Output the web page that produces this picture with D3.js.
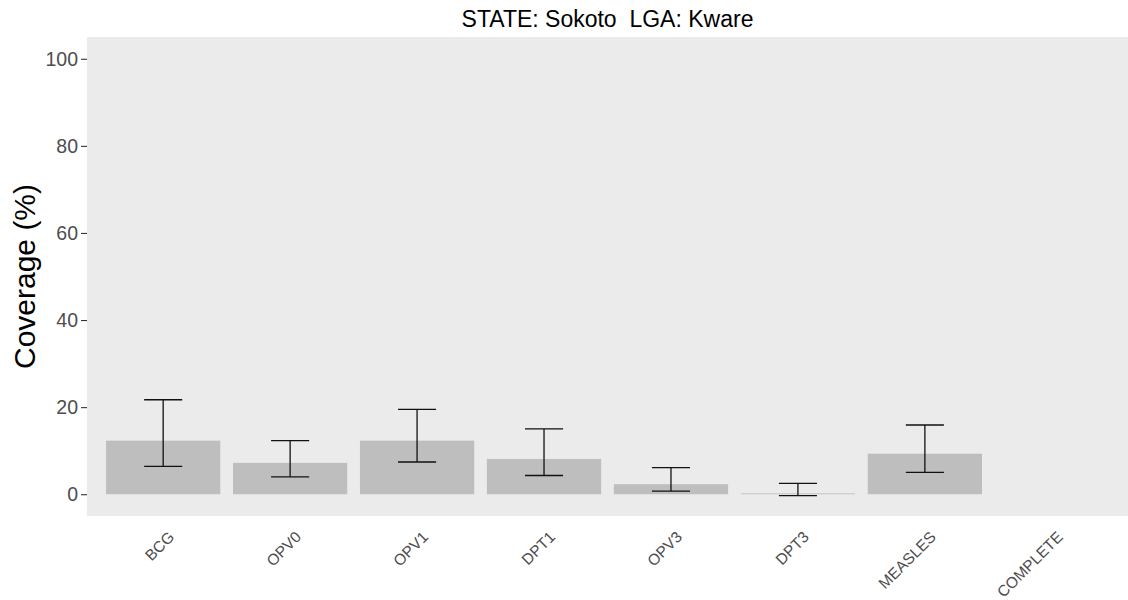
<!DOCTYPE html>
<html>
<head>
<meta charset="utf-8">
<script src="https://cdn.jsdelivr.net/npm/d3@7"></script>
<style>
  html, body { margin: 0; padding: 0; background: #ffffff; }
  svg { display: block; font-family: "Liberation Sans", Arial, sans-serif; }
</style>
</head>
<body>
<svg id="chart" width="1128" height="600"></svg>
<script>
// Vaccination coverage estimates with 95% confidence intervals
const categories = ["BCG", "OPV0", "OPV1", "DPT1", "OPV3", "DPT3", "MEASLES", "COMPLETE"];
const coverage   = [12.3, 7.2, 12.3, 8.1, 2.3, 0.2, 9.3, 0];
const lowerCI    = [6.4, 4.0, 7.4, 4.3, 0.7, -0.3, 5.0, null];
const upperCI    = [21.7, 12.3, 19.5, 15.0, 6.1, 2.5, 15.9, null];
const yTicks     = [0, 20, 40, 60, 80, 100];
const titleText  = "STATE: Sokoto  LGA: Kware";
const yTitle     = "Coverage (%)";

const data = categories.map((c, i) => ({
  cat: c, value: coverage[i], lo: lowerCI[i], hi: upperCI[i]
}));

const svg = d3.select("#chart");
const panel = { left: 87, right: 1128, top: 37, bottom: 516 };

const x = d3.scaleBand()
  .domain(categories)
  .range([panel.left, panel.right])
  .paddingInner(0.1)
  .paddingOuter(0.15);

const y = d3.scaleLinear()
  .domain([-5, 105])
  .range([panel.bottom, panel.top]);

// panel background
svg.append("rect")
  .attr("x", panel.left).attr("y", panel.top)
  .attr("width", panel.right - panel.left)
  .attr("height", panel.bottom - panel.top)
  .attr("fill", "#EBEBEB");

// bars
svg.append("g").selectAll("rect")
  .data(data)
  .join("rect")
  .attr("x", d => x(d.cat))
  .attr("width", x.bandwidth())
  .attr("y", d => y(Math.max(d.value, 0)))
  .attr("height", d => Math.abs(y(0) - y(d.value)))
  .attr("fill", "#BEBEBE");

// error bars
const ebHalf = x.step() * 0.15;
const eb = svg.append("g")
  .attr("stroke", "#111111")
  .attr("stroke-width", 1.3)
  .attr("fill", "none");
data.filter(d => d.lo != null && d.hi != null).forEach(d => {
  const cx = x(d.cat) + x.bandwidth() / 2;
  eb.append("line").attr("x1", cx).attr("x2", cx).attr("y1", y(d.lo)).attr("y2", y(d.hi));
  eb.append("line").attr("x1", cx - ebHalf).attr("x2", cx + ebHalf).attr("y1", y(d.hi)).attr("y2", y(d.hi));
  eb.append("line").attr("x1", cx - ebHalf).attr("x2", cx + ebHalf).attr("y1", y(d.lo)).attr("y2", y(d.lo));
});

// y axis
const yAxis = d3.axisLeft(y).tickValues(yTicks).tickSize(6).tickPadding(3);
const gy = svg.append("g")
  .attr("transform", `translate(${panel.left},0)`)
  .call(yAxis);
gy.select(".domain").remove();
gy.selectAll(".tick line").attr("stroke", "#333333").attr("stroke-width", 1.1);
gy.selectAll(".tick text")
  .attr("fill", "#4D4D4D")
  .style("font-size", "19.5px")
  .style("font-family", "'Liberation Sans', Arial, sans-serif");

// x axis labels (rotated, no ticks)
const xAxis = d3.axisBottom(x).tickSize(0).tickPadding(0);
const gx = svg.append("g")
  .attr("transform", `translate(0,${panel.bottom})`)
  .call(xAxis);
gx.select(".domain").remove();
gx.selectAll(".tick text")
  .attr("fill", "#4D4D4D")
  .attr("text-anchor", "end")
  .attr("dy", null)
  .attr("y", 0)
  .attr("transform", "translate(12,22) rotate(-45)")
  .style("font-size", "15.5px")
  .style("font-family", "'Liberation Sans', Arial, sans-serif");

// title
svg.append("text")
  .attr("x", (panel.left + panel.right) / 2)
  .attr("y", 27)
  .attr("text-anchor", "middle")
  .attr("fill", "#000000")
  .style("font-size", "23px")
  .style("white-space", "pre")
  .attr("xml:space", "preserve")
  .text(titleText);

// y axis title
svg.append("text")
  .attr("transform", `translate(35,${(panel.top + panel.bottom) / 2}) rotate(-90)`)
  .attr("text-anchor", "middle")
  .attr("fill", "#000000")
  .style("font-size", "30px")
  .text(yTitle);
</script>
</body>
</html>
